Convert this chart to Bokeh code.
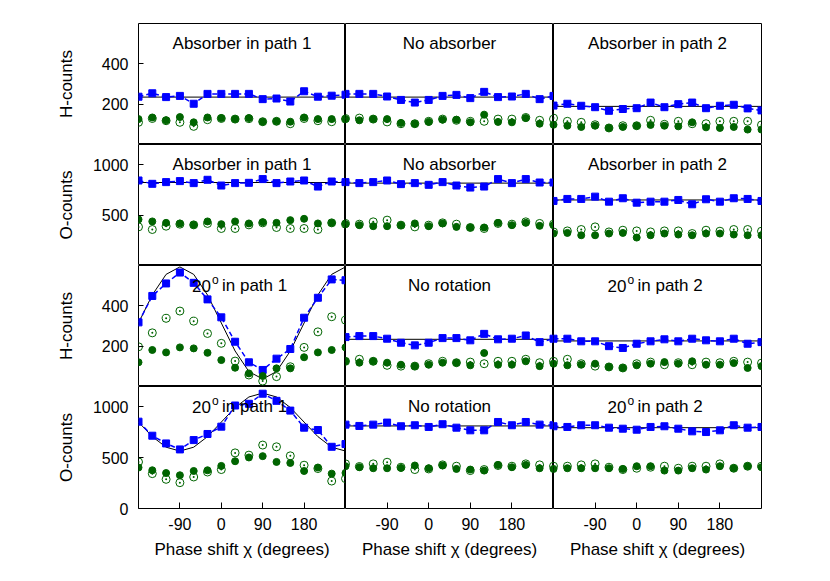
from bokeh.plotting import figure
from bokeh.layouts import gridplot
from bokeh.models import Label, FixedTicker, Range1d
from bokeh.embed import file_html
from bokeh.resources import INLINE

# ---------------- data ----------------
chi = [-180, -150, -120, -90, -60, -30, 0, 30, 60, 90, 120, 150, 180, 210, 240, 270]
x_ticks = [-90, 0, 90, 180]
x_tick_labels = ["-90", "0", "90", "180"]
x_limits = [-180, 270]
h_limits = [0, 600]
o_limits = [0, 1200]
h_ticks = [200, 400]
o_ticks = [500, 1000]
o_ticks_bottom = [0, 500, 1000]

titles_row12 = ["Absorber in path 1", "No absorber", "Absorber in path 2"]
titles_row34 = [("20", "o", " in path 1"), ("No rotation", "", ""), ("20", "o", " in path 2")]

# Row 1: H-counts with absorbers
h_abs1_sq = [237, 254, 235, 241, 202, 251, 251, 251, 251, 225, 228, 213, 264, 237, 242, 247]
h_abs1_fill = [126, 134, 120, 136, 110, 134, 131, 126, 131, 113, 115, 113, 134, 126, 126, 128]
h_abs1_open = [110, 129, 118, 110, 90, 123, 129, 126, 128, 113, 115, 103, 129, 118, 113, 126]
h_abs1_theory = 235

h_noabs_sq = [251, 251, 251, 238, 221, 208, 221, 241, 246, 230, 261, 235, 238, 251, 225, 241]
h_noabs_fill = [126, 120, 126, 126, 107, 103, 112, 123, 123, 110, 148, 112, 110, 131, 103, 98]
h_noabs_open = [129, 131, 126, 112, 103, 103, 115, 126, 120, 115, 115, 126, 126, 134, 120, 126]
h_noabs_theory = 235

h_abs2_sq = [193, 202, 192, 185, 167, 176, 180, 208, 185, 200, 208, 180, 192, 197, 179, 169]
h_abs2_fill = [98, 93, 87, 93, 82, 87, 93, 97, 93, 90, 110, 85, 82, 87, 74, 74]
h_abs2_open = [131, 115, 110, 98, 82, 93, 93, 120, 100, 115, 103, 103, 115, 115, 115, 97]
h_abs2_theory = 189

# Row 2: O-counts with absorbers
o_abs1_sq = [843, 810, 827, 837, 817, 850, 793, 817, 820, 857, 817, 833, 843, 783, 833, 827]
o_abs1_fill = [457, 437, 423, 417, 403, 437, 410, 437, 417, 430, 423, 450, 463, 417, 423, 417]
o_abs1_open = [383, 357, 390, 410, 403, 417, 367, 367, 403, 423, 377, 367, 367, 357, 423, 410]
o_abs1_theory = 823

o_noabs_sq = [827, 817, 827, 843, 807, 817, 800, 827, 793, 773, 783, 857, 817, 857, 823, 823]
o_noabs_fill = [410, 400, 390, 390, 400, 417, 390, 417, 383, 377, 377, 423, 400, 423, 393, 400]
o_noabs_open = [417, 410, 433, 450, 400, 383, 400, 423, 410, 377, 367, 417, 410, 433, 417, 410]
o_noabs_theory = 817

o_abs2_sq = [640, 660, 660, 683, 633, 667, 623, 633, 633, 650, 607, 657, 633, 667, 660, 640]
o_abs2_fill = [317, 323, 300, 300, 317, 323, 277, 300, 317, 307, 300, 317, 317, 307, 300, 300]
o_abs2_open = [333, 343, 357, 383, 333, 350, 343, 333, 343, 343, 317, 350, 340, 357, 357, 340]
o_abs2_theory = 650

# Row 3: H-counts with rotations
h_rot1_sq = [318, 449, 511, 565, 514, 432, 343, 222, 120, 82, 138, 186, 341, 440, 531, 527]
h_rot1_fill = [120, 181, 169, 194, 189, 167, 131, 93, 65, 52, 90, 90, 145, 169, 181, 194]
h_rot1_open = [197, 266, 338, 374, 324, 263, 214, 126, 57, 27, 49, 98, 194, 271, 346, 329]
h_rot1_theory = [315, 454, 556, 593, 556, 454, 315, 176, 74, 37, 74, 176, 315, 454, 556, 593]

h_norot_sq = [245, 250, 250, 237, 217, 204, 217, 240, 240, 229, 261, 234, 237, 253, 220, 237]
h_norot_fill = [125, 118, 125, 118, 108, 101, 108, 118, 118, 105, 166, 108, 108, 125, 101, 113]
h_norot_open = [125, 135, 125, 105, 101, 101, 113, 125, 118, 121, 113, 125, 125, 135, 118, 125]
h_norot_theory = 234

h_rot2_sq = [237, 237, 224, 224, 200, 191, 212, 224, 234, 224, 237, 229, 224, 237, 212, 220]
h_rot2_fill = [113, 105, 108, 113, 97, 92, 105, 113, 121, 113, 125, 108, 108, 116, 92, 101]
h_rot2_open = [125, 135, 113, 101, 97, 92, 113, 121, 108, 118, 108, 121, 118, 125, 121, 116]
h_rot2_theory = 226

# Row 4: O-counts with rotations
o_rot1_sq = [854, 716, 640, 581, 673, 733, 805, 1013, 1030, 1129, 1059, 963, 795, 772, 607, 634]
o_rot1_fill = [403, 376, 349, 327, 369, 376, 419, 465, 502, 515, 458, 448, 369, 403, 343, 350]
o_rot1_open = [458, 343, 287, 254, 310, 359, 383, 547, 525, 624, 607, 518, 426, 393, 270, 294]
o_rot1_theory = [850, 707, 603, 565, 603, 707, 850, 993, 1097, 1135, 1097, 993, 850, 707, 603, 565]

o_norot_sq = [825, 812, 825, 845, 809, 819, 802, 829, 795, 769, 769, 851, 819, 851, 825, 819]
o_norot_fill = [416, 406, 396, 396, 399, 423, 396, 423, 389, 383, 373, 429, 406, 429, 396, 389]
o_norot_open = [439, 413, 439, 455, 406, 383, 389, 429, 416, 373, 383, 423, 416, 439, 429, 416]
o_norot_theory = 812

o_rot2_sq = [809, 802, 819, 819, 795, 785, 775, 802, 809, 785, 759, 752, 769, 819, 795, 802]
o_rot2_fill = [389, 396, 396, 396, 396, 389, 416, 416, 373, 373, 396, 383, 416, 396, 416, 406]
o_rot2_open = [416, 416, 429, 439, 406, 383, 396, 406, 416, 396, 416, 416, 439, 396, 416, 416]
o_rot2_theory = 795

panels = [
    [(h_abs1_sq, h_abs1_fill, h_abs1_open, h_abs1_theory),
     (h_noabs_sq, h_noabs_fill, h_noabs_open, h_noabs_theory),
     (h_abs2_sq, h_abs2_fill, h_abs2_open, h_abs2_theory)],
    [(o_abs1_sq, o_abs1_fill, o_abs1_open, o_abs1_theory),
     (o_noabs_sq, o_noabs_fill, o_noabs_open, o_noabs_theory),
     (o_abs2_sq, o_abs2_fill, o_abs2_open, o_abs2_theory)],
    [(h_rot1_sq, h_rot1_fill, h_rot1_open, h_rot1_theory),
     (h_norot_sq, h_norot_fill, h_norot_open, h_norot_theory),
     (h_rot2_sq, h_rot2_fill, h_rot2_open, h_rot2_theory)],
    [(o_rot1_sq, o_rot1_fill, o_rot1_open, o_rot1_theory),
     (o_norot_sq, o_norot_fill, o_norot_open, o_norot_theory),
     (o_rot2_sq, o_rot2_fill, o_rot2_open, o_rot2_theory)],
]

# ---------------- styling ----------------
FONT = "Liberation Sans"
TICK_FS = "16px"
TEXT_FS = "17px"
BLUE = "#0000ff"
GREEN = "#006400"
frame_w = [207, 208, 208]
frame_h = [121, 121, 121, 122]

rows = []
for r in range(4):
    is_h = r in (0, 2)
    ylim = h_limits if is_h else o_limits
    row = []
    for c in range(3):
        sq, fill, opn, theory = panels[r][c]
        p = figure(
            frame_width=frame_w[c], frame_height=frame_h[r],
            x_range=Range1d(x_limits[0], x_limits[1]),
            y_range=Range1d(ylim[0], ylim[1]),
            output_backend="svg", toolbar_location=None,
            x_axis_location="below" if r == 3 else None,
            y_axis_location="left" if c == 0 else None,
            min_border=0,
            min_border_left=138 if c == 0 else 0,
            min_border_right=20 if c == 2 else 0,
            min_border_top=23 if r == 0 else 0,
            min_border_bottom=58 if r == 3 else 0,
        )
        p.outline_line_color = "black"
        p.outline_line_width = 1
        for g in p.grid:
            g.visible = False

        # theory curve
        if isinstance(theory, list):
            p.line(chi, theory, line_color="black", line_width=1)
        else:
            p.line([chi[0], chi[-1]], [theory, theory], line_color="black", line_width=1)
        # blue measured (dashed connecting line + squares)
        p.line(chi, sq, line_color=BLUE, line_width=1.5, line_dash="5 3")
        p.scatter(chi, sq, marker="square", size=7, fill_color=BLUE, line_color=BLUE)
        # green series
        p.scatter(chi, opn, marker="circle_dot", size=8, fill_color=None,
                  line_color=GREEN, line_width=1)
        p.scatter(chi, fill, marker="circle", size=7, fill_color=GREEN, line_color=GREEN)

        # panel title
        xc = (x_limits[0] + x_limits[1]) / 2
        yt = ylim[1] - 20.0 / frame_h[r] * (ylim[1] - ylim[0])
        if r < 2:
            p.add_layout(Label(x=xc, y=yt, text=titles_row12[c], text_align="center",
                               text_baseline="middle", text_font=FONT, text_font_size=TEXT_FS,
                               text_color="black"))
        else:
            a, sup, b = titles_row34[c]
            if sup == "":
                p.add_layout(Label(x=xc, y=yt, text=a, text_align="center",
                                   text_baseline="middle", text_font=FONT,
                                   text_font_size=TEXT_FS, text_color="black"))
            else:
                p.add_layout(Label(x=xc, y=yt, x_offset=-31, text=a, text_align="right",
                                   text_baseline="middle", text_font=FONT,
                                   text_font_size=TEXT_FS, text_color="black"))
                p.add_layout(Label(x=xc, y=yt, x_offset=-30, y_offset=6, text=sup,
                                   text_align="left", text_baseline="middle", text_font=FONT,
                                   text_font_size="12px", text_color="black"))
                p.add_layout(Label(x=xc, y=yt, x_offset=-20, text=b, text_align="left",
                                   text_baseline="middle", text_font=FONT,
                                   text_font_size=TEXT_FS, text_color="black"))

        if c == 0:
            ax = p.yaxis[0]
            if is_h:
                ax.ticker = FixedTicker(ticks=h_ticks)
                ax.axis_label = "H-counts"
                ax.axis_label_standoff = 23
            else:
                ax.ticker = FixedTicker(ticks=o_ticks_bottom if r == 3 else o_ticks)
                ax.axis_label = "O-counts"
                ax.axis_label_standoff = 14
            ax.major_tick_in = 5
            ax.major_tick_out = 0
            ax.major_tick_line_color = "black"
            ax.minor_tick_line_color = None
            ax.axis_line_color = None
            ax.major_label_standoff = 10
            ax.major_label_text_font = FONT
            ax.major_label_text_font_size = TICK_FS
            ax.major_label_text_color = "black"
            ax.axis_label_text_font = FONT
            ax.axis_label_text_font_size = TEXT_FS
            ax.axis_label_text_font_style = "normal"
            ax.axis_label_text_color = "black"
        if r == 3:
            ax = p.xaxis[0]
            ax.ticker = FixedTicker(ticks=x_ticks)
            ax.major_label_overrides = {t: s for t, s in zip(x_ticks, x_tick_labels)}
            ax.major_tick_in = 6
            ax.major_tick_out = 0
            ax.major_tick_line_color = "black"
            ax.minor_tick_line_color = None
            ax.axis_line_color = None
            ax.major_label_standoff = 9
            ax.major_label_text_font = FONT
            ax.major_label_text_font_size = TICK_FS
            ax.major_label_text_color = "black"
            ax.axis_label = "Phase shift \u03c7 (degrees)"
            ax.axis_label_standoff = 7
            ax.axis_label_text_font = FONT
            ax.axis_label_text_font_size = TEXT_FS
            ax.axis_label_text_font_style = "normal"
            ax.axis_label_text_color = "black"
        row.append(p)
    rows.append(row)

grid = gridplot(rows, toolbar_location=None)

open("out.html", "w").write(file_html(grid, INLINE))
